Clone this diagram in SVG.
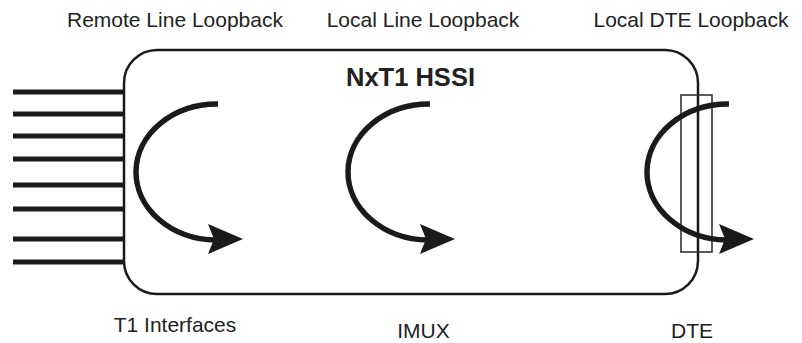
<svg xmlns="http://www.w3.org/2000/svg" xmlns:xlink="http://www.w3.org/1999/xlink" width="802" height="343" viewBox="0 0 802 343">
<style>
.lbl{font-family:"Liberation Sans",Arial,sans-serif;font-size:21px;fill:#222;text-anchor:middle}
.title{font-family:"Liberation Sans",Arial,sans-serif;font-size:25.5px;font-weight:bold;fill:#222;text-anchor:middle}
.box{fill:#fff;stroke:#1a1a1a;stroke-width:2.5}
.wire{stroke:#1a1a1a;stroke-width:5}
.loop{fill:none;stroke:#1a1a1a;stroke-width:5.5}
.head{fill:#1a1a1a}
.dte{fill:none;stroke:#333;stroke-width:1.6}
</style>
<defs>
<path id="ah" d="M0,0 L-35,-15 L-29,0 L-35,15 Z"/>
<path id="lp" d="M0,0 A81,68 0 0 0 -2,136"/>
</defs>
<text class="lbl" x="175" y="27">Remote Line Loopback</text>
<text class="lbl" x="423" y="27">Local Line Loopback</text>
<text class="lbl" x="691" y="27">Local DTE Loopback</text>
<g id="t1-interfaces">
<g class="wire">
<line x1="13" y1="92" x2="124" y2="92"/>
<line x1="13" y1="114" x2="124" y2="114"/>
<line x1="13" y1="136" x2="124" y2="136"/>
<line x1="13" y1="159" x2="124" y2="159"/>
<line x1="13" y1="185" x2="124" y2="185"/>
<line x1="13" y1="209" x2="124" y2="209"/>
<line x1="13" y1="239" x2="124" y2="239"/>
<line x1="13" y1="262" x2="124" y2="262"/>
</g>
<text class="lbl" x="175" y="332">T1 Interfaces</text>
</g>
<g id="nxt1-hssi">
<rect class="box" x="124" y="50" width="574" height="244" rx="33" ry="33"/>
<text class="title" x="410.5" y="86">NxT1 HSSI</text>
</g>
<g id="imux">
<text class="lbl" x="423.5" y="338">IMUX</text>
</g>
<g id="dte">
<rect class="dte" x="681" y="95" width="31" height="157"/>
<text class="lbl" x="692" y="338">DTE</text>
</g>
<g id="connectors">
<g id="remote-loop">
<use xlink:href="#lp" class="loop" transform="translate(218,104)"/>
<use xlink:href="#ah" class="head" transform="translate(243,239)"/>
</g>
<g id="local-line-loop">
<use xlink:href="#lp" class="loop" transform="translate(430,104)"/>
<use xlink:href="#ah" class="head" transform="translate(455,239)"/>
</g>
<g id="local-dte-loop">
<use xlink:href="#lp" class="loop" transform="translate(729,104)"/>
<use xlink:href="#ah" class="head" transform="translate(754,239)"/>
</g>
</g>
</svg>
